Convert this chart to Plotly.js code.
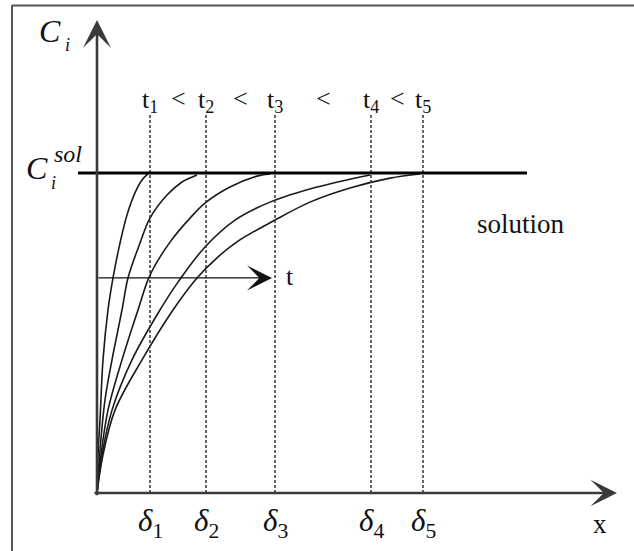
<!DOCTYPE html>
<html>
<head>
<meta charset="utf-8">
<script src="https://cdn.plot.ly/plotly-3.0.1.min.js"></script>
<style>html,body{margin:0;padding:0;background:#fff;}#chart{width:634px;height:551px;}</style>
</head>
<body>
<div id="chart"></div>
<script>
// Penetration depths (x, arbitrary units) where each profile reaches the solution concentration
const deltas = [0.53, 1.09, 1.78, 2.74, 3.26];
const deltaLabels = ["1", "2", "3", "4", "5"];
const timeLabels = ["1", "2", "3", "4", "5"];

// Concentration profiles (C / C_sol) at times t1..t5
const c1x = [0, 0.01, 0.03, 0.06, 0.11, 0.16, 0.23, 0.30, 0.38, 0.45, 0.51];
const c1y = [0, 0.119, 0.228, 0.416, 0.572, 0.672, 0.781, 0.869, 0.938, 0.978, 0.997];
const c2x = [0, 0.03, 0.08, 0.15, 0.25, 0.31, 0.43, 0.53, 0.70, 0.85, 1.00];
const c2y = [0, 0.134, 0.291, 0.416, 0.572, 0.672, 0.781, 0.859, 0.931, 0.972, 0.994];
const c3x = [0, 0.04, 0.11, 0.25, 0.41, 0.53, 0.73, 0.93, 1.08, 1.33, 1.61, 1.73];
const c3y = [0, 0.119, 0.259, 0.416, 0.572, 0.681, 0.784, 0.859, 0.906, 0.956, 0.991, 0.997];
const c4x = [0, 0.05, 0.15, 0.35, 0.63, 0.81, 1.08, 1.38, 1.73, 2.20, 2.73];
const c4y = [0, 0.119, 0.259, 0.416, 0.572, 0.659, 0.769, 0.853, 0.909, 0.956, 0.994];
const c5x = [0, 0.06, 0.18, 0.45, 0.76, 1.00, 1.20, 1.40, 1.78, 2.13, 2.53, 2.93, 3.23];
const c5y = [0, 0.119, 0.259, 0.416, 0.572, 0.672, 0.735, 0.785, 0.853, 0.909, 0.953, 0.984, 0.997];

// Solution concentration level
const solX = [-0.19, 4.30];
const solY = [1, 1];
const guideTop = 1.1875;

const serif = "Liberation Serif";
const traces = [];
[[c1x,c1y],[c2x,c2y],[c3x,c3y],[c4x,c4y],[c5x,c5y]].forEach(([x,y]) => {
  traces.push({x, y, mode: "lines", line: {color: "#1a1a1a", width: 1.6, shape: "spline"}, hoverinfo: "skip"});
});
deltas.forEach(d => {
  traces.push({x: [d, d], y: [0, guideTop], mode: "lines", line: {color: "#333", width: 1.5, dash: "3px,2px"}, hoverinfo: "skip"});
});
traces.push({x: solX, y: solY, mode: "lines", line: {color: "#000", width: 3.2}, hoverinfo: "skip"});

const ann = [];
// axis arrows
ann.push({x: 0, y: 1.478, ax: 0, ay: -0.012, axref: "x", ayref: "y", xref: "x", yref: "y", text: "", showarrow: true, arrowhead: 3, arrowsize: 1.8, arrowwidth: 2.6, arrowcolor: "#3a3a3a"});
ann.push({x: 5.20, y: 0, ax: -0.04, ay: 0, axref: "x", ayref: "y", xref: "x", yref: "y", text: "", showarrow: true, arrowhead: 3, arrowsize: 1.7, arrowwidth: 2.6, arrowcolor: "#3a3a3a"});
// time arrow
ann.push({x: 1.75, y: 0.672, ax: 0, ay: 0.672, axref: "x", ayref: "y", xref: "x", yref: "y", text: "", showarrow: true, arrowhead: 3, arrowsize: 3.2, arrowwidth: 1.3, arrowcolor: "#111"});
ann.push({x: 1.93, y: 0.678, xref: "x", yref: "y", text: "t", showarrow: false, font: {family: serif, size: 26, color: "#111"}});

// C_i labels
ann.push({x: -0.47, y: 1.444, xref: "x", yref: "y", text: "<i>C</i>", showarrow: false, font: {family: serif, size: 32, color: "#111"}});
ann.push({x: -0.30, y: 1.40, xref: "x", yref: "y", text: "<i>i</i>", showarrow: false, font: {family: serif, size: 18, color: "#111"}});
ann.push({x: -0.60, y: 1.016, xref: "x", yref: "y", text: "<i>C</i>", showarrow: false, font: {family: serif, size: 32, color: "#111"}});
ann.push({x: -0.29, y: 1.058, xref: "x", yref: "y", text: "<i>sol</i>", showarrow: false, font: {family: serif, size: 24, color: "#111"}});
ann.push({x: -0.44, y: 0.970, xref: "x", yref: "y", text: "<i>i</i>", showarrow: false, font: {family: serif, size: 18, color: "#111"}});

// time and depth labels
deltas.forEach((d, i) => {
  ann.push({x: d, y: 1.225, xref: "x", yref: "y", text: "t<sub>" + timeLabels[i] + "</sub>", showarrow: false, font: {family: serif, size: 26, color: "#111"}});
  ann.push({x: d, y: -0.094, xref: "x", yref: "y", text: "<i>δ</i><sub>" + deltaLabels[i] + "</sub>", showarrow: false, font: {family: serif, size: 31, color: "#111"}});
  if (i < deltas.length - 1) {
    ann.push({x: (d + deltas[i+1]) / 2, y: 1.233, xref: "x", yref: "y", text: "&lt;", showarrow: false, font: {family: serif, size: 26, color: "#111"}});
  }
});
ann.push({x: 5.03, y: -0.097, xref: "x", yref: "y", text: "x", showarrow: false, font: {family: serif, size: 27, color: "#111"}});
ann.push({x: 4.24, y: 0.84, xref: "x", yref: "y", text: "solution", showarrow: false, font: {family: serif, size: 27, color: "#111"}});

const layout = {
  width: 634, height: 551,
  margin: {l: 0, r: 0, t: 0, b: 0},
  paper_bgcolor: "#fff", plot_bgcolor: "#fff",
  showlegend: false,
  font: {family: serif},
  xaxis: {range: [-0.97, 5.37], visible: false, showgrid: false, zeroline: false, fixedrange: true},
  yaxis: {range: [-0.18125, 1.540625], visible: false, showgrid: false, zeroline: false, fixedrange: true},
  annotations: ann,
  shapes: [
    {type: "line", xref: "paper", yref: "paper", x0: 12/634, x1: 1, y0: 1 - 5.5/551, y1: 1 - 5.5/551, line: {color: "#555", width: 2}},
    {type: "line", xref: "paper", yref: "paper", x0: 12/634, x1: 12/634, y0: 0, y1: 1 - 5/551, line: {color: "#555", width: 2}}
  ]
};
Plotly.newPlot("chart", traces, layout, {staticPlot: true, displayModeBar: false});
</script>
</body>
</html>
